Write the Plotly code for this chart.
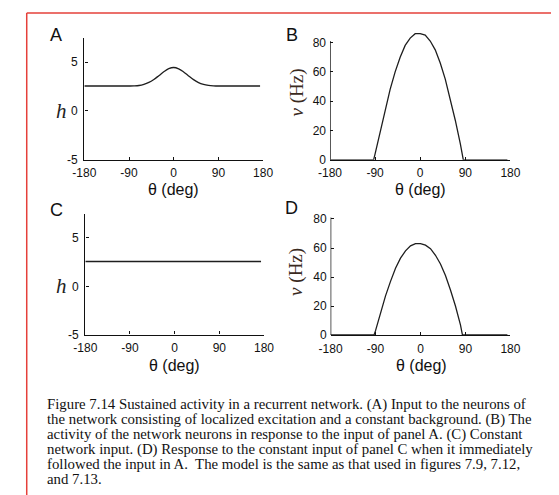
import plotly.graph_objects as go

W, H = 559, 495

# ---------------- data ----------------
theta_h = [-180, -170, -160, -150, -140, -130, -120, -110, -100, -90, -80, -70, -60, -50,
           -40, -30, -20, -10, 0, 10, 20, 30, 40, 50, 60, 70, 80, 90, 100, 110, 120,
           130, 140, 150, 160, 170, 174]
h_A = [2.55, 2.55, 2.55, 2.55, 2.55, 2.55, 2.55, 2.55, 2.55, 2.55, 2.56, 2.6, 2.72, 2.92,
       3.22, 3.6, 4.0, 4.32, 4.44, 4.3, 3.98, 3.58, 3.2, 2.9, 2.72, 2.62, 2.57, 2.55, 2.55,
       2.55, 2.55, 2.55, 2.55, 2.55, 2.55, 2.55, 2.55]
h_C = [2.57] * len(theta_h)

theta_B = [-180, -93, -90, -80, -70, -60, -50, -40, -30, -20, -10, 0, 10, 20, 30, 40,
           50, 60, 70, 80, 86, 174]
v_B = [0, 0, 4, 19, 34, 48, 60, 70, 78, 83, 86, 86, 85, 81, 75, 66, 55, 42, 27, 11, 0, 0]

theta_D = [-180, -93, -90, -80, -70, -60, -50, -40, -30, -20, -10, 0, 10, 20, 30, 40,
           50, 60, 70, 80, 84, 174]
v_D = [0, 0, 3, 15, 27, 37, 46, 53, 58, 61.5, 63, 63, 62, 59.5, 55, 49, 41, 31, 20, 7, 0, 0]

x_ticks = [-180, -90, 0, 90, 180]
x_ticktext = ["-180", "-90", "0", "90", "180"]
h_ticks = [-5, 0, 5]
h_ticktext = ["-5", "0", "5"]
v_ticks = [0, 20, 40, 60, 80]
v_ticktext = ["0", "20", "40", "60", "80"]
v_axis_top = 81

caption_lines = [
    "Figure 7.14 Sustained activity in a recurrent network. (A) Input to the neurons of",
    "the network consisting of localized excitation and a constant background. (B) The",
    "activity of the network neurons in response to the input of panel A. (C) Constant",
    "network input. (D) Response to the constant input of panel C when it immediately",
    "followed the input in A.  The model is the same as that used in figures 7.9, 7.12,",
    "and 7.13.",
]


def px(x):
    return x / W


def py(y):
    return 1 - y / H


fig = go.Figure()

LINE = dict(color="#1e1e1e", width=1.3)
fig.add_trace(go.Scatter(x=theta_h, y=h_A, mode="lines", line=dict(shape="spline", **LINE),
                         xaxis="x", yaxis="y", hoverinfo="skip"))
fig.add_trace(go.Scatter(x=theta_B, y=v_B, mode="lines", line=LINE,
                         xaxis="x2", yaxis="y2", hoverinfo="skip"))
fig.add_trace(go.Scatter(x=theta_h, y=h_C, mode="lines", line=LINE,
                         xaxis="x3", yaxis="y3", hoverinfo="skip"))
fig.add_trace(go.Scatter(x=theta_D, y=v_D, mode="lines", line=LINE,
                         xaxis="x4", yaxis="y4", hoverinfo="skip"))

TICKFONT = dict(family="Liberation Sans, Arial", size=12, color="#111")


def xax(dom, anchor):
    return dict(domain=dom, anchor=anchor, range=[-180, 180], tickvals=x_ticks,
                ticktext=x_ticktext,
                showline=True, linecolor="#111", linewidth=1.4, ticks="inside",
                ticklen=3, tickwidth=1, tickcolor="#111", showgrid=False, zeroline=False,
                tickfont=TICKFONT, ticklabelstandoff=2)


def yax(dom, anchor, rng, tv, tt, line=True):
    return dict(domain=dom, anchor=anchor, range=rng, tickvals=tv, ticktext=tt,
                showline=line, linecolor="#111", linewidth=1.4, ticks="inside",
                ticklen=3, tickwidth=1, tickcolor="#111", showgrid=False, zeroline=False,
                tickfont=TICKFONT, ticklabelstandoff=3)


# B: value 0 at y=154 px, 80 at y=35 px -> 1.4875 px/unit ; top of domain at 88
b_top = 154 - 88 * 1.4875
# D: value 0 at 331.7 px, 80 at 214 -> 1.471 px/unit
d_top = 331.7 - 88 * 1.471

fig.update_layout(
    width=W, height=H, margin=dict(l=0, r=0, t=0, b=0),
    paper_bgcolor="white", plot_bgcolor="rgba(0,0,0,0)", showlegend=False,
    xaxis=xax([px(67), px(253)], "y"),
    yaxis=yax([py(154), py(30)], "x", [-5, 7.5], h_ticks, h_ticktext),
    xaxis2=xax([px(322.7), px(510.5)], "y2"),
    yaxis2=yax([py(154), py(b_top)], "x2", [0, 88], v_ticks, v_ticktext, line=False),
    xaxis3=xax([px(68), px(254)], "y3"),
    yaxis3=yax([py(331.3), py(208.8)], "x3", [-5, 7.5], h_ticks, h_ticktext),
    xaxis4=xax([px(323.3), px(510.5)], "y4"),
    yaxis4=yax([py(331.7), py(d_top)], "x4", [0, 88], v_ticks, v_ticktext, line=False),
)

# y axis lines for B and D (they stop just above 80 while the curve may rise higher)
for xr, yr in [("x2", "y2"), ("x4", "y4")]:
    fig.add_shape(type="line", xref=xr, yref=yr, x0=-180, x1=-180, y0=0, y1=v_axis_top,
                  line=dict(color="#111", width=1.4))

ann = []
# panel letters
for t, x, y in [("A", 37, 27), ("B", 283, 27), ("C", 38, 205), ("D", 283, 203)]:
    ann.append(dict(text=t, x=px(x), y=py(y), xref="paper", yref="paper", showarrow=False,
                    font=dict(family="Liberation Sans, Arial", size=18, color="#111"),
                    xanchor="center", yanchor="middle"))
# x titles
for x, y in [(160, 184), (417, 184), (161, 363), (418, 363)]:
    ann.append(dict(text="θ (deg)", x=px(x), y=py(y), xref="paper", yref="paper",
                    showarrow=False, font=dict(family="Liberation Sans, Arial", size=16,
                                               color="#111"),
                    xanchor="center", yanchor="middle"))
# h titles
for x, y in [(43, 104), (43, 282)]:
    ann.append(dict(text="<i>h</i>", x=px(x), y=py(y), xref="paper", yref="paper",
                    showarrow=False, font=dict(family="Liberation Serif", size=21,
                                               color="#222"),
                    xanchor="center", yanchor="middle"))
# v titles
for x, y in [(288, 86), (288, 268)]:
    ann.append(dict(text="<i>v</i> (Hz)", x=px(x), y=py(y), xref="paper", yref="paper",
                    showarrow=False, textangle=-90,
                    font=dict(family="Liberation Serif", size=19, color="#3a2a1e"),
                    xanchor="center", yanchor="middle"))
# caption
for i, line in enumerate(caption_lines):
    ann.append(dict(text=line, x=px(26), y=py(402 + i * 15.2), xref="paper", yref="paper",
                    showarrow=False, font=dict(family="Liberation Serif", size=14.8,
                                               color="#111"),
                    xanchor="left", yanchor="middle"))
fig.update_layout(annotations=ann)

# red frame
fig.add_shape(type="line", xref="paper", yref="paper", x0=px(7), x1=1, y0=py(5), y1=py(5),
              line=dict(color="#e5403a", width=1.5))
fig.add_shape(type="line", xref="paper", yref="paper", x0=px(7), x1=px(7), y0=py(5), y1=0,
              line=dict(color="#e5403a", width=1.5))

fig.write_html("out.html")
